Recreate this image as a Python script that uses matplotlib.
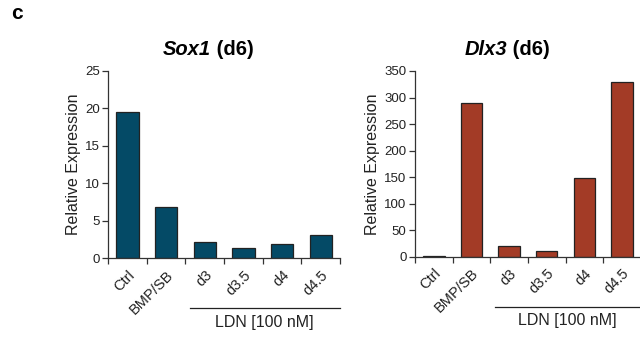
import numpy as np
import matplotlib.pyplot as plt

plt.rcParams['font.family'] = ['Liberation Sans', 'DejaVu Sans']

categories = ['Ctrl', 'BMP/SB', 'd3', 'd3.5', 'd4', 'd4.5']
sox1_values = [19.5, 6.8, 2.2, 1.4, 1.9, 3.1]
dlx3_values = [1, 289, 20, 11, 148, 330]
sox1_ticks = [0, 5, 10, 15, 20, 25]
dlx3_ticks = [0, 50, 100, 150, 200, 250, 300, 350]
group_label = 'LDN [100 nM]'


def draw_panel(ax, values, yticks, color):
    x = np.arange(len(categories))
    ax.bar(x, values, width=0.57, color=color, edgecolor='#222222', linewidth=0.9)
    ax.set_xlim(-0.5, len(categories) - 0.5)
    ax.set_ylim(0, yticks[-1])
    ax.set_yticks(yticks)
    ax.set_xticks(x)
    ax.set_xticklabels(categories, rotation=45, ha='right', va='top',
                       rotation_mode='anchor', fontsize=10.5, color='#222222')
    ax.set_xticks(np.arange(len(categories) + 1) - 0.5, minor=True)
    ax.tick_params(axis='x', which='major', length=0, pad=7)
    ax.tick_params(axis='x', which='minor', length=4, width=0.9, color='#333333')
    ax.tick_params(axis='y', length=4, width=0.9, color='#333333',
                   labelsize=9.5, labelcolor='#222222', pad=2)
    for s in ['top', 'right']:
        ax.spines[s].set_visible(False)
    for s in ['left', 'bottom']:
        ax.spines[s].set_linewidth(0.9)
        ax.spines[s].set_color('#333333')
    ax.set_ylabel('Relative Expression', fontsize=11.5, color='#222222', labelpad=3)
    # group bracket under the LDN samples
    trans = ax.get_xaxis_transform()
    ax.plot([1.62, 5.5], [-0.27, -0.27], transform=trans, color='#222222',
            linewidth=0.9, clip_on=False)
    ax.text(3.55, -0.305, group_label, transform=trans, ha='center', va='top',
            fontsize=11.5, color='#222222')


def draw_title(fig, xc, y, gene):
    t1 = fig.text(xc, y, gene, fontsize=14.5, fontweight='bold', fontstyle='italic',
                  ha='left', va='baseline')
    t2 = fig.text(xc, y, ' (d6)', fontsize=14.5, fontweight='bold',
                  ha='left', va='baseline')
    r = fig.canvas.get_renderer()
    w1 = t1.get_window_extent(r).width / fig.bbox.width
    w2 = t2.get_window_extent(r).width / fig.bbox.width
    x0 = xc - (w1 + w2) / 2
    t1.set_x(x0)
    t2.set_x(x0 + w1)


fig = plt.figure(figsize=(6.4, 3.41), dpi=100)
ax1 = fig.add_axes([0.169, 0.2434, 0.3625, 0.5484])
ax2 = fig.add_axes([0.6484, 0.2472, 0.353, 0.5446])

draw_panel(ax1, sox1_values, sox1_ticks, '#044a66')
draw_panel(ax2, dlx3_values, dlx3_ticks, '#a33b26')

draw_title(fig, 0.326, 0.839, 'Sox1')
draw_title(fig, 0.792, 0.839, 'Dlx3')

fig.text(0.027, 0.959, 'c', fontsize=15, fontweight='bold', ha='center', va='center')

fig.savefig('out.png', dpi=100)
